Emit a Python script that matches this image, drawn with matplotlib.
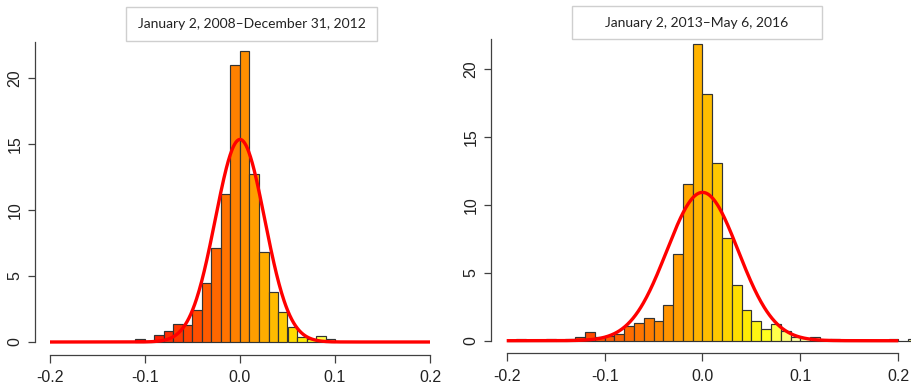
import numpy as np
import matplotlib
matplotlib.use("Agg")
import matplotlib.pyplot as plt
from matplotlib.colors import LinearSegmentedColormap
from matplotlib.patches import Rectangle

# ---- data (density per 0.01-wide bin) ----
BIN_W = 0.01

left_first_bin = -0.11
left_density = [0.2, 0.0, 0.53, 0.8, 1.36, 1.3, 2.4, 4.5, 7.1, 11.2, 21.0,
                22.07, 12.7, 6.84, 3.81, 2.3, 1.16, 0.35, 0.2, 0.45, 0.2]

right_first_bin = -0.20
right_density = [0.0, 0.12, 0.0, 0.0, 0.12, 0.0, 0.12, 0.3, 0.62, 0.24, 0.32,
                 0.52, 1.08, 1.3, 1.65, 1.45, 2.62, 6.37, 11.57, 21.84, 18.18,
                 13.07, 7.57, 4.1, 2.24, 1.42, 0.85, 1.23, 0.74, 0.27, 0.22,
                 0.3, 0.0, 0.12, 0.0, 0.0, 0.0, 0.0, 0.0, 0.12, 0.0, 0.12]

# fitted normal curves
left_mean, left_sd = 0.0, 0.026
right_mean, right_sd = 0.0, 0.0365

left_title = "January 2, 2008\u2013December 31, 2012"
right_title = "January 2, 2013\u2013May 6, 2016"

x_ticks = [-0.2, -0.1, 0.0, 0.1, 0.2]
x_tick_labels = ["-0.2", "-0.1", "0.0", "0.1", "0.2"]
y_ticks = [0, 5, 10, 15, 20]

# ---- style ----
W, H = 912, 388
AXIS = '#404040'
EDGE = '#333333'
TICK_FONT = 'Liberation Sans'
TITLE_FONT = 'Lato'

heat = LinearSegmentedColormap.from_list('heat', [
    (0.00, '#FF0000'),
    (0.50, '#FF8000'),
    (0.68, '#FFB800'),
    (0.82, '#FFE600'),
    (0.90, '#FFFF20'),
    (1.00, '#FFFFA0'),
])

fig = plt.figure(figsize=(W / 100, H / 100), dpi=100)
fig.patch.set_facecolor('white')


def px_axes(x0, y0, x1, y1):
    # pixel box (top-left origin) -> figure fraction
    return fig.add_axes([x0 / W, 1 - y1 / H, (x1 - x0) / W, (y1 - y0) / H])


def draw_panel(ax, first_bin, density, mean, sd, xlim, ylim, c_lo, c_hi):
    starts = first_bin + BIN_W * np.arange(len(density))
    centers = starts + BIN_W / 2
    cols = heat(np.clip((centers - c_lo) / (c_hi - c_lo), 0, 1))
    ax.bar(starts, density, width=BIN_W, align='edge', color=cols,
           edgecolor=EDGE, linewidth=0.85, zorder=2)

    xs = np.linspace(-0.2, 0.2, 600)
    pdf = np.exp(-0.5 * ((xs - mean) / sd) ** 2) / (sd * np.sqrt(2 * np.pi))
    ax.plot(xs, pdf, color='#FF0000', lw=2.4, zorder=3, solid_capstyle='butt')

    ax.set_xlim(*xlim)
    ax.set_ylim(*ylim)
    ax.set_facecolor('none')
    for s in ('top', 'right'):
        ax.spines[s].set_visible(False)
    ax.spines['left'].set_bounds(0, ylim[1])
    ax.spines['bottom'].set_bounds(-0.2, 0.2)
    for s in ('left', 'bottom'):
        ax.spines[s].set_color(AXIS)
        ax.spines[s].set_linewidth(0.9)

    ax.set_xticks(x_ticks)
    ax.set_xticklabels(x_tick_labels, fontfamily=TICK_FONT, fontsize=11.5)
    ax.set_yticks(y_ticks)
    ax.set_yticklabels([str(v) for v in y_ticks], fontfamily=TICK_FONT,
                       fontsize=11.5, rotation=90, va='center')
    ax.tick_params(axis='x', length=5.5, width=0.9, color=AXIS,
                   labelcolor='#222222', pad=5.5)
    ax.tick_params(axis='y', length=5, width=0.9, color=AXIS,
                   labelcolor='#222222', pad=4)


# left panel: -0.2 -> px 50, 0.2 -> px 430, 0 -> py 342, 13.2 px per unit
axl = px_axes(35, 42, 440, 355)
draw_panel(axl, left_first_bin, left_density, left_mean, left_sd,
           (-0.2 - 15 / 950, 0.2 + 10 / 950), (-13 / 13.2, 300 / 13.2),
           -0.11, 0.10)

# right panel: -0.2 -> px 506.7, 0.2 -> px 898.3, 0 -> py 340.7
axr = px_axes(491, 39.3, 912, 353.3)
draw_panel(axr, right_first_bin, right_density, right_mean, right_sd,
           (-0.2 - 15.7 / 979, 0.2 + 13.7 / 979), (-12.6 / 13.57, 301.4 / 13.57),
           -0.20, 0.095)


def title_box(x0, y0, x1, y1, text):
    fig.patches.append(Rectangle((x0 / W, 1 - y1 / H), (x1 - x0) / W,
                                 (y1 - y0) / H, transform=fig.transFigure,
                                 facecolor='white', edgecolor='#CFCFCF',
                                 linewidth=1.0, zorder=5))
    fig.text((x0 + x1) / 2 / W, 1 - (y0 + y1) / 2 / H, text,
             ha='center', va='center', fontfamily=TITLE_FONT, fontsize=10,
             color='#222222', zorder=6)


title_box(125.7, 6.7, 377.3, 41, left_title)
title_box(571.7, 6, 822.3, 39.3, right_title)

fig.savefig('out.png', dpi=100)
